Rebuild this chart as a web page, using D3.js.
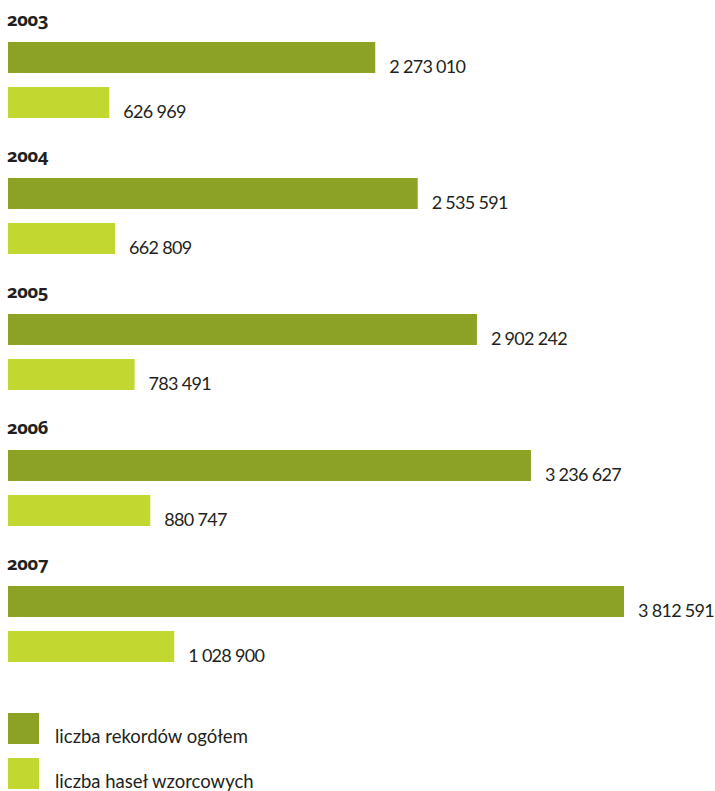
<!DOCTYPE html>
<html><head><meta charset="utf-8">
<script src="https://cdn.jsdelivr.net/npm/d3@7"></script>
<style>
html,body{margin:0;padding:0;background:#fff;}
text{font-family:Lato,"Open Sans",sans-serif;fill:#231f20;}
.year{font-family:"Noto Sans",Lato,sans-serif;font-weight:bold;font-size:18.5px;letter-spacing:-0.5px;font-variant-numeric:oldstyle-nums;font-feature-settings:"onum" 1;}
.val{font-size:18px;letter-spacing:-0.7px;}
.leg{font-size:18.5px;}
</style></head>
<body>
<svg id="c" width="715" height="791"></svg>
<script>
const years = ["2003","2004","2005","2006","2007"];
const totalRecords = [2273010, 2535591, 2902242, 3236627, 3812591];
const standardEntries = [626969, 662809, 783491, 880747, 1028900];
const seriesNames = ["liczba rekordów ogółem", "liczba haseł wzorcowych"];
const colors = ["#8ca225", "#c2d72f"];

const svg = d3.select("#c");
const x = d3.scaleLinear().domain([0, 3812591]).range([8, 624]);
const yGroup = d3.scaleBand().domain(years).range([42, 42 + 136*5]).paddingInner(0).paddingOuter(0);
const barH = 31, offset = 45;
const fmt = v => d3.format(",")(v).replace(/,/g, " ");

const g = svg.selectAll("g.grp").data(years.map((y,i)=>({y, vals:[totalRecords[i], standardEntries[i]]})))
  .enter().append("g").attr("class","grp");

g.append("text").attr("class","year")
  .attr("x", 7).attr("y", d => yGroup(d.y) - 16).text(d => d.y);

g.each(function(d){
  const gg = d3.select(this);
  d.vals.forEach((v,k)=>{
    const top = yGroup(d.y) + k*offset;
    gg.append("rect").attr("x", x(0)).attr("y", top).attr("width", x(v)-x(0)).attr("height", barH).attr("fill", colors[k]);
    gg.append("text").attr("class","val").attr("x", x(v)+14).attr("y", top + barH - 0.5).text(fmt(v));
  });
});

const leg = svg.selectAll("g.leg").data(seriesNames).enter().append("g");
leg.append("rect").attr("x",8).attr("y",(d,i)=>713+i*45).attr("width",31).attr("height",31).attr("fill",(d,i)=>colors[i]);
leg.append("text").attr("class","leg").attr("x",55).attr("y",(d,i)=>743+i*45).text(d=>d);
</script>
</body></html>
